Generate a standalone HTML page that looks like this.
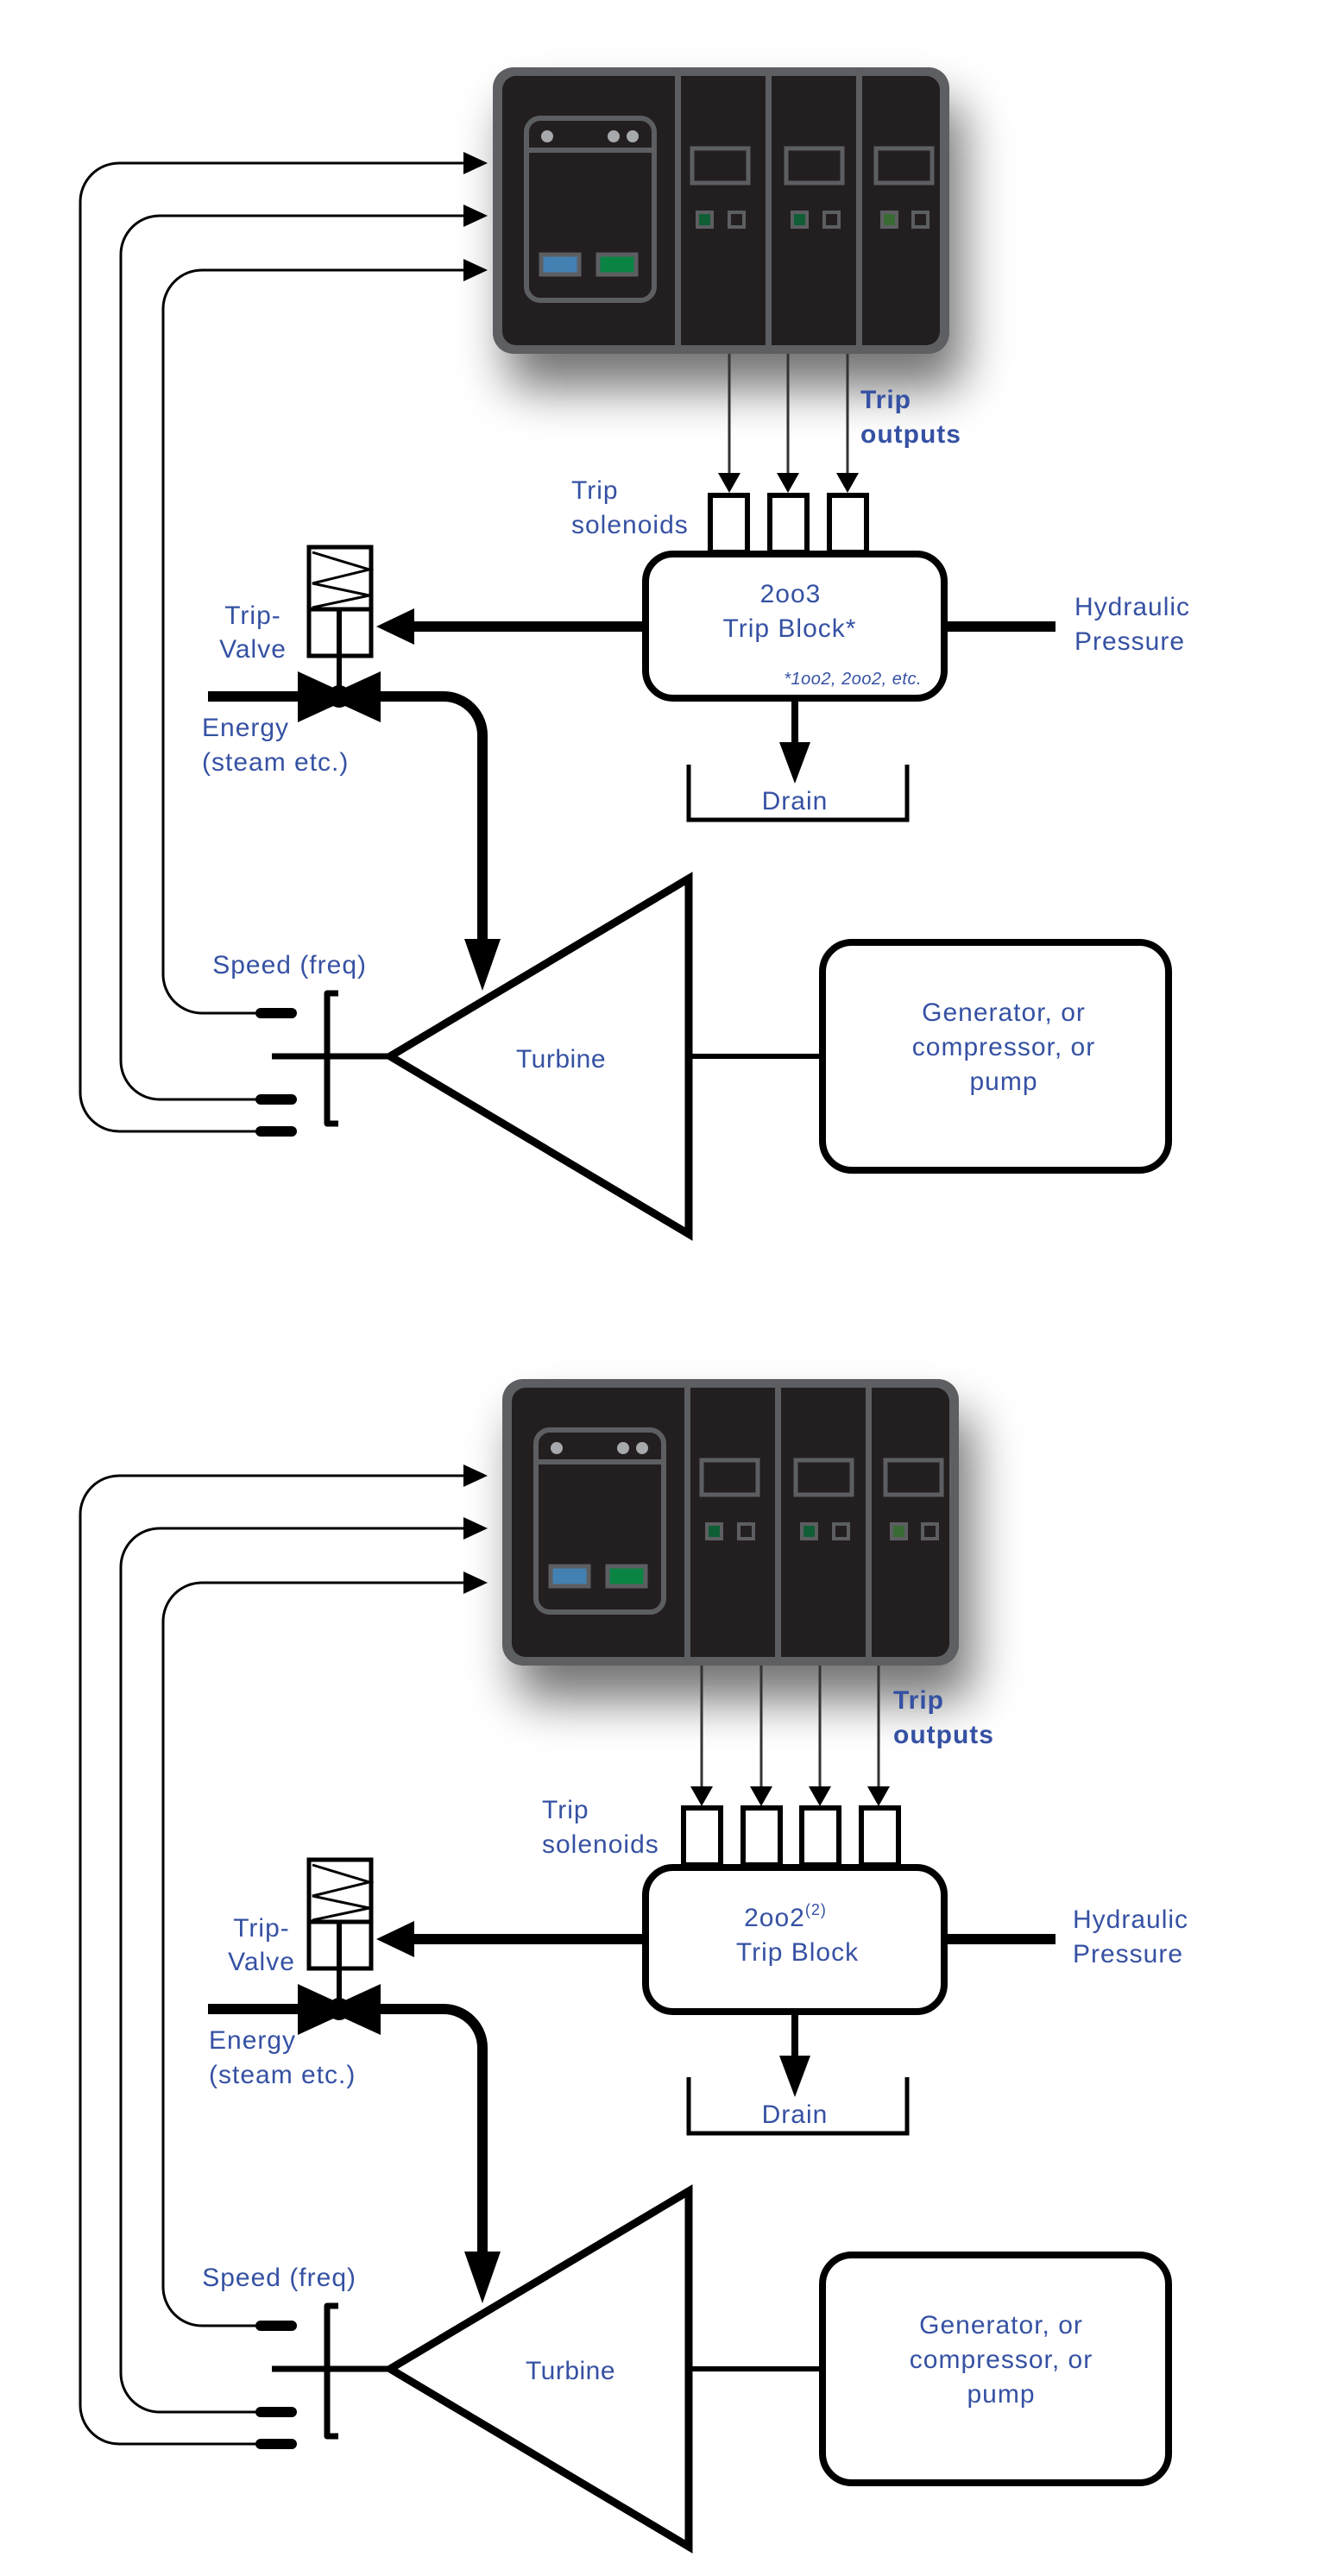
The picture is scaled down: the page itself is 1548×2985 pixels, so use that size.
<!DOCTYPE html>
<html><head><meta charset="utf-8">
<style>
html,body{margin:0;padding:0;background:#fff;}
svg{display:block;}
text{font-family:"Liberation Sans",sans-serif;fill:#3551a3;letter-spacing:1px;}
</style></head>
<body>
<svg width="1548" height="2985" viewBox="0 0 1548 2985" xmlns="http://www.w3.org/2000/svg">
<defs>
<filter id="sh" x="-30%" y="-30%" width="170%" height="190%">
<feGaussianBlur in="SourceAlpha" stdDeviation="28"/>
<feOffset dx="16" dy="40" result="b"/>
<feComponentTransfer><feFuncA type="linear" slope="0.55"/></feComponentTransfer>
<feMerge><feMergeNode/><feMergeNode in="SourceGraphic"/></feMerge>
</filter>
<g id="rack3">
<g filter="url(#sh)"><rect x="571" y="78" width="529" height="332" rx="24" fill="#5d5e62"/></g>
<rect x="582" y="88" width="507" height="312" rx="16" fill="#231f20"/>
<rect x="782" y="78" width="7" height="332" fill="#5d5e62"/>
<rect x="887" y="78" width="7" height="332" fill="#5d5e62"/>
<rect x="992" y="78" width="7" height="332" fill="#5d5e62"/>
<rect x="610" y="137" width="148" height="211" rx="16" fill="none" stroke="#5d5e62" stroke-width="6"/>
<line x1="610" y1="174" x2="758" y2="174" stroke="#5d5e62" stroke-width="6"/>
<circle cx="634" cy="158" r="7" fill="#a7a9ac"/><circle cx="711" cy="158" r="7" fill="#a7a9ac"/><circle cx="733" cy="158" r="7" fill="#a7a9ac"/>
<rect x="627" y="295" width="44" height="23" fill="#4481b3" stroke="#5d5e62" stroke-width="5"/>
<rect x="693" y="295" width="44" height="23" fill="#0a8443" stroke="#5d5e62" stroke-width="5"/>
<rect x="802" y="172" width="65" height="40" fill="none" stroke="#5d5e62" stroke-width="5"/>
<rect x="808" y="246" width="17" height="17" fill="#0f5e35" stroke="#5d5e62" stroke-width="4"/>
<rect x="845" y="246" width="17" height="17" fill="#231f20" stroke="#5d5e62" stroke-width="4"/>
<rect x="911" y="172" width="65" height="40" fill="none" stroke="#5d5e62" stroke-width="5"/>
<rect x="918" y="246" width="17" height="17" fill="#0f5e35" stroke="#5d5e62" stroke-width="4"/>
<rect x="955" y="246" width="17" height="17" fill="#231f20" stroke="#5d5e62" stroke-width="4"/>
<rect x="1015" y="172" width="65" height="40" fill="none" stroke="#5d5e62" stroke-width="5"/>
<rect x="1022" y="246" width="17" height="17" fill="#3a6a34" stroke="#5d5e62" stroke-width="4"/>
<rect x="1058" y="246" width="17" height="17" fill="#231f20" stroke="#5d5e62" stroke-width="4"/>
</g>
<g id="common">
<g fill="none" stroke="#000" stroke-width="3">
<path d="M540 189 H138 A45 45 0 0 0 93 234 V1266 A45 45 0 0 0 138 1311 H300"/>
<path d="M540 250 H185 A45 45 0 0 0 140 295 V1229 A45 45 0 0 0 185 1274 H300"/>
<path d="M540 313 H234 A45 45 0 0 0 189 358 V1129 A45 45 0 0 0 234 1174 H300"/>
</g>
<polygon points="537,176 565,189 537,202"/><polygon points="537,237 565,250 537,263"/><polygon points="537,300 565,313 537,326"/>
<g stroke="#000" stroke-width="12" stroke-linecap="round">
<line x1="302" y1="1174" x2="338" y2="1174"/><line x1="302" y1="1274" x2="338" y2="1274"/><line x1="302" y1="1311" x2="338" y2="1311"/>
</g>
<path d="M392 1151 H379 V1302 H392" fill="none" stroke="#000" stroke-width="7" stroke-linejoin="round"/>
<line x1="315" y1="1224" x2="452" y2="1224" stroke="#000" stroke-width="7"/>
<polygon points="452,1224 798,1018 798,1430" fill="none" stroke="#000" stroke-width="9" stroke-linejoin="miter"/>
<line x1="798" y1="1224" x2="950" y2="1224" stroke="#000" stroke-width="6"/>
<rect x="953" y="1092" width="401" height="264" rx="34" fill="none" stroke="#000" stroke-width="8"/>
<path d="M241 807 H514 A45 45 0 0 1 559 852 V1095" fill="none" stroke="#000" stroke-width="12"/>
<polygon points="538,1088 580,1088 559,1148"/>
<rect x="358" y="634" width="72" height="126" fill="#fff" stroke="#000" stroke-width="5"/>
<line x1="358" y1="706" x2="430" y2="706" stroke="#000" stroke-width="5"/>
<polyline points="362,640 428,660 362,676 428,690 362,704" fill="none" stroke="#000" stroke-width="3"/>
<line x1="393" y1="706" x2="393" y2="800" stroke="#000" stroke-width="6"/>
<polygon points="345,778 393,800 441,778 441,837 393,815 345,837"/>
<circle cx="393" cy="807" r="13"/>
</g>
</defs>

<use href="#rack3"/>
<use href="#common"/>
<g stroke="#333" stroke-width="3">
<line x1="845" y1="410" x2="845" y2="552"/><line x1="913" y1="410" x2="913" y2="552"/><line x1="982" y1="410" x2="982" y2="552"/>
</g>
<polygon points="832,548 858,548 845,571"/><polygon points="900,548 926,548 913,571"/><polygon points="969,548 995,548 982,571"/>
<g fill="#fff" stroke="#000" stroke-width="6">
<rect x="823" y="574" width="43" height="66"/><rect x="892" y="574" width="43" height="66"/><rect x="961" y="574" width="43" height="66"/>
</g>
<rect x="748" y="642" width="346" height="167" rx="32" fill="#fff" stroke="#000" stroke-width="8"/>
<line x1="470" y1="726" x2="744" y2="726" stroke="#000" stroke-width="12"/>
<polygon points="436,726 480,705 480,747"/>
<line x1="1098" y1="726" x2="1223" y2="726" stroke="#000" stroke-width="12"/>
<line x1="921" y1="813" x2="921" y2="865" stroke="#000" stroke-width="8"/>
<polygon points="903,860 939,860 921,908"/>
<path d="M798 886 V950 H1051 V886" fill="none" stroke="#000" stroke-width="5"/>

<text x="997" y="473" font-size="30" font-weight="bold">Trip</text>
<text x="997" y="513" font-size="30" font-weight="bold">outputs</text>
<text x="662" y="578" font-size="30">Trip</text>
<text x="662" y="618" font-size="30">solenoids</text>
<text x="916" y="698" font-size="30" text-anchor="middle">2oo3</text>
<text x="915" y="738" font-size="30" text-anchor="middle">Trip Block*</text>
<text x="1068" y="793" font-size="20" font-style="italic" text-anchor="end" style="letter-spacing:0.5px">*1oo2, 2oo2, etc.</text>
<text x="1245" y="713" font-size="30">Hydraulic</text>
<text x="1245" y="753" font-size="30">Pressure</text>
<text x="921" y="938" font-size="30" text-anchor="middle">Drain</text>
<text x="293" y="723" font-size="30" text-anchor="middle">Trip-</text>
<text x="293" y="762" font-size="30" text-anchor="middle">Valve</text>
<text x="234" y="853" font-size="30">Energy</text>
<text x="234" y="893" font-size="30">(steam etc.)</text>
<text x="425" y="1128" font-size="30" text-anchor="end">Speed (freq)</text>
<text x="650" y="1237" font-size="30" text-anchor="middle" style="letter-spacing:0.5px">Turbine</text>
<text x="1163" y="1183" font-size="30" text-anchor="middle">Generator, or</text>
<text x="1163" y="1223" font-size="30" text-anchor="middle">compressor, or</text>
<text x="1163" y="1263" font-size="30" text-anchor="middle">pump</text>

<use href="#rack3" transform="translate(11,1520)"/>
<use href="#common" transform="translate(0,1521)"/>
<g stroke="#333" stroke-width="3">
<line x1="813" y1="1930" x2="813" y2="2072"/><line x1="882" y1="1930" x2="882" y2="2072"/><line x1="950" y1="1930" x2="950" y2="2072"/><line x1="1018" y1="1930" x2="1018" y2="2072"/>
</g>
<polygon points="800,2070 826,2070 813,2093"/><polygon points="869,2070 895,2070 882,2093"/><polygon points="937,2070 963,2070 950,2093"/><polygon points="1005,2070 1031,2070 1018,2093"/>
<g fill="#fff" stroke="#000" stroke-width="6">
<rect x="792" y="2095" width="43" height="66"/><rect x="861" y="2095" width="43" height="66"/><rect x="929" y="2095" width="43" height="66"/><rect x="998" y="2095" width="43" height="66"/>
</g>
<rect x="748" y="2164" width="346" height="167" rx="32" fill="#fff" stroke="#000" stroke-width="8"/>
<line x1="470" y1="2247" x2="744" y2="2247" stroke="#000" stroke-width="12"/>
<polygon points="436,2247 480,2226 480,2268"/>
<line x1="1098" y1="2247" x2="1223" y2="2247" stroke="#000" stroke-width="12"/>
<line x1="921" y1="2335" x2="921" y2="2387" stroke="#000" stroke-width="8"/>
<polygon points="903,2382 939,2382 921,2430"/>
<path d="M798 2407 V2472 H1051 V2407" fill="none" stroke="#000" stroke-width="5"/>

<text x="1035" y="1980" font-size="30" font-weight="bold">Trip</text>
<text x="1035" y="2020" font-size="30" font-weight="bold">outputs</text>
<text x="628" y="2107" font-size="30">Trip</text>
<text x="628" y="2147" font-size="30">solenoids</text>
<text x="910" y="2232" font-size="30" text-anchor="middle">2oo2<tspan font-size="18" dy="-13">(2)</tspan></text>
<text x="924" y="2272" font-size="30" text-anchor="middle">Trip Block</text>
<text x="1243" y="2234" font-size="30">Hydraulic</text>
<text x="1243" y="2274" font-size="30">Pressure</text>
<text x="921" y="2460" font-size="30" text-anchor="middle">Drain</text>
<text x="303" y="2244" font-size="30" text-anchor="middle">Trip-</text>
<text x="303" y="2283" font-size="30" text-anchor="middle">Valve</text>
<text x="242" y="2374" font-size="30">Energy</text>
<text x="242" y="2414" font-size="30">(steam etc.)</text>
<text x="413" y="2649" font-size="30" text-anchor="end">Speed (freq)</text>
<text x="661" y="2757" font-size="30" text-anchor="middle" style="letter-spacing:0.5px">Turbine</text>
<text x="1160" y="2704" font-size="30" text-anchor="middle">Generator, or</text>
<text x="1160" y="2744" font-size="30" text-anchor="middle">compressor, or</text>
<text x="1160" y="2784" font-size="30" text-anchor="middle">pump</text>
</svg>
</body></html>
